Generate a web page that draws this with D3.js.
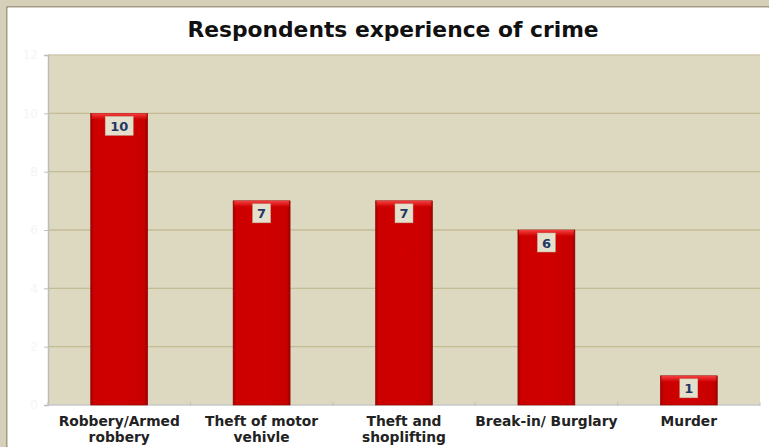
<!DOCTYPE html>
<html>
<head>
<meta charset="utf-8">
<script src="https://cdn.jsdelivr.net/npm/d3@7"></script>
<style>
  html, body { margin: 0; padding: 0; background: #d6d0b8; }
  svg { display: block; }
</style>
</head>
<body>
<svg id="chart" width="769" height="447"></svg>
<script>
// Crime categories and the number of respondents reporting each
const categories = [
  ["Robbery/Armed", "robbery"],
  ["Theft of motor", "vehivle"],
  ["Theft and", "shoplifting"],
  ["Break-in/ Burglary"],
  ["Murder"]
];
const values = [10, 7, 7, 6, 1];
const yTicks = [0, 2, 4, 6, 8, 10, 12];
const title = "Respondents experience of crime";

const svg = d3.select("#chart");
const W = 769, H = 447;

// frame: beige surround with a dark edge, white card
svg.append("rect").attr("x", 0).attr("y", 0).attr("width", W).attr("height", H).attr("fill", "#d6d0b8");
svg.append("rect").attr("x", 7).attr("y", 7).attr("width", W - 7).attr("height", H - 7)
  .attr("fill", "#ffffff").attr("stroke", "#7f7a62").attr("stroke-width", 1.2);
svg.append("rect").attr("x", 7.6).attr("y", 7.6).attr("width", W).attr("height", H).attr("fill", "#ffffff");

const plot = { left: 48, right: 760, top: 55, bottom: 405 };

const x = d3.scaleBand()
  .domain(d3.range(categories.length))
  .range([plot.left, plot.right])
  .paddingInner(0.6)
  .paddingOuter(0.3);

const xBand = d3.scaleBand()
  .domain(d3.range(categories.length))
  .range([plot.left, plot.right]);

const y = d3.scaleLinear().domain([0, 12]).range([plot.bottom, plot.top]);

// plot background
svg.append("rect")
  .attr("x", plot.left).attr("y", plot.top)
  .attr("width", plot.right - plot.left).attr("height", plot.bottom - plot.top)
  .attr("fill", "#ddd8c0");

// gridlines
svg.append("g")
  .selectAll("line")
  .data(yTicks.filter(t => t > 0))
  .join("line")
  .attr("x1", plot.left).attr("x2", plot.right)
  .attr("y1", d => y(d)).attr("y2", d => y(d))
  .attr("stroke", d => d === 12 ? "#cfc9ae" : "#c4bc94")
  .attr("stroke-width", 1.3);

// y axis (labels are barely visible on white)
const yAxis = svg.append("g")
  .attr("transform", `translate(${plot.left},0)`)
  .call(d3.axisLeft(y).tickValues(yTicks).tickSize(4).tickPadding(6));
yAxis.select(".domain").attr("stroke", "#bcbcbc").attr("stroke-width", 1.5);
yAxis.selectAll(".tick line").attr("stroke", "#bcbcbc");
yAxis.selectAll(".tick text")
  .attr("fill", "#f5f5f5")
  .style("font-family", "'DejaVu Sans', Verdana, sans-serif")
  .style("font-size", "12px");

// x axis baseline and category dividers
svg.append("line")
  .attr("x1", plot.left).attr("x2", plot.right)
  .attr("y1", plot.bottom).attr("y2", plot.bottom)
  .attr("stroke", "#c8c8c8").attr("stroke-width", 1.5);
svg.append("g")
  .selectAll("line")
  .data(d3.range(categories.length + 1))
  .join("line")
  .attr("x1", i => i < categories.length ? xBand(i) : plot.right)
  .attr("x2", i => i < categories.length ? xBand(i) : plot.right)
  .attr("y1", plot.bottom - 3).attr("y2", plot.bottom + 1)
  .attr("stroke", "#c0c0c0");

// bar shading
const defs = svg.append("defs");
const grad = defs.append("linearGradient").attr("id", "barGrad")
  .attr("x1", "0").attr("x2", "1").attr("y1", "0").attr("y2", "0");
grad.append("stop").attr("offset", "0%").attr("stop-color", "#a40000");
grad.append("stop").attr("offset", "6%").attr("stop-color", "#cc0000");
grad.append("stop").attr("offset", "50%").attr("stop-color", "#d00000");
grad.append("stop").attr("offset", "94%").attr("stop-color", "#c80000");
grad.append("stop").attr("offset", "100%").attr("stop-color", "#9c0000");
const topGrad = defs.append("linearGradient").attr("id", "topGrad")
  .attr("x1", "0").attr("x2", "0").attr("y1", "0").attr("y2", "1");
topGrad.append("stop").attr("offset", "0%").attr("stop-color", "#ff5050");
topGrad.append("stop").attr("offset", "100%").attr("stop-color", "#d00000");

const bars = svg.append("g").selectAll("g")
  .data(values)
  .join("g");

bars.append("rect")
  .attr("x", (d, i) => x(i))
  .attr("y", d => y(d))
  .attr("width", x.bandwidth())
  .attr("height", d => y(0) - y(d))
  .attr("fill", "url(#barGrad)")
  .attr("stroke", "#8a0000")
  .attr("stroke-width", 0.6);

bars.append("rect")
  .attr("x", (d, i) => x(i) + 1)
  .attr("y", d => y(d))
  .attr("width", x.bandwidth() - 2)
  .attr("height", 6)
  .attr("fill", "url(#topGrad)")
  .attr("opacity", 0.8);

// value labels in small boxes at the top of each bar
const labels = svg.append("g").selectAll("g")
  .data(values)
  .join("g")
  .attr("transform", (d, i) => `translate(${x(i) + x.bandwidth() / 2},${y(d) + 13})`);

labels.append("rect")
  .attr("x", d => String(d).length > 1 ? -14 : -9)
  .attr("y", -10)
  .attr("width", d => String(d).length > 1 ? 28 : 18)
  .attr("height", 19)
  .attr("fill", "#e4e0cc")
  .attr("stroke", "#b8b298")
  .attr("stroke-width", 0.5);

labels.append("text")
  .attr("text-anchor", "middle")
  .attr("dy", "0.35em")
  .attr("fill", "#1f3864")
  .style("font-family", "'DejaVu Sans', Verdana, sans-serif")
  .style("font-weight", "bold")
  .style("font-size", "13px")
  .text(d => d);

// category labels
const xl = svg.append("g").selectAll("text")
  .data(categories)
  .join("text")
  .attr("x", (d, i) => xBand(i) + xBand.bandwidth() / 2)
  .attr("y", 426)
  .attr("text-anchor", "middle")
  .attr("fill", "#222222")
  .style("font-family", "'DejaVu Sans', Verdana, sans-serif")
  .style("font-weight", "bold")
  .style("font-size", "13.8px");
xl.selectAll("tspan")
  .data(d => d)
  .join("tspan")
  .attr("x", function () { return this.parentNode.getAttribute("x"); })
  .attr("dy", (d, i) => i === 0 ? 0 : 16)
  .text(d => d);

// title
svg.append("text")
  .attr("x", 393)
  .attr("y", 37)
  .attr("text-anchor", "middle")
  .attr("fill", "#111111")
  .style("font-family", "'DejaVu Sans', Verdana, sans-serif")
  .style("font-weight", "bold")
  .style("font-size", "21.8px")
  .text(title);
</script>
</body>
</html>
